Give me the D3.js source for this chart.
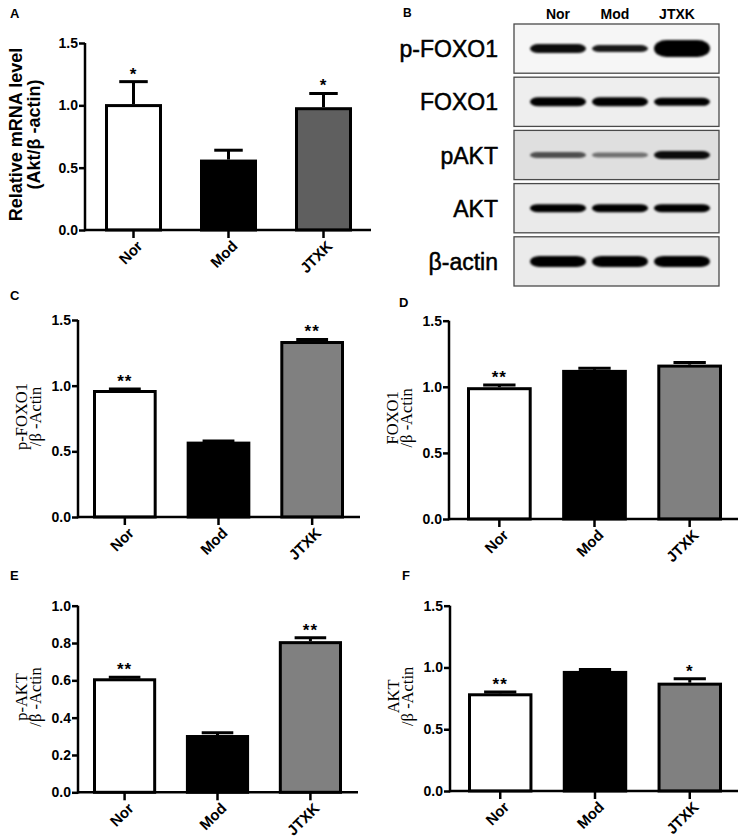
<!DOCTYPE html>
<html>
<head>
<meta charset="utf-8">
<script src="https://cdn.jsdelivr.net/npm/d3@7"></script>
<style>
body { margin: 0; background: #fff; }
svg { display: block; font-family: "Liberation Sans", Arial, sans-serif; }
</style>
</head>
<body>
<svg id="fig" width="743" height="839"></svg>
<script>
var groups = ["Nor", "Mod", "JTXK"];

// A: relative Akt mRNA
var mrnaMean = [1.01, 0.565, 0.985];
var mrnaErr = [0.18, 0.075, 0.11];
var mrnaStars = ["*", "", "*"];

// C: p-FOXO1 / beta-actin
var pFoxo1Mean = [0.967, 0.574, 1.34];
var pFoxo1Err = [0.008, 0.005, 0.012];
var pFoxo1Stars = ["**", "", "**"];

// D: FOXO1 / beta-actin
var foxo1Mean = [0.997, 1.128, 1.168];
var foxo1Err = [0.016, 0.012, 0.016];
var foxo1Stars = ["**", "", ""];

// E: p-AKT / beta-actin
var pAktMean = [0.611, 0.307, 0.81];
var pAktErr = [0.005, 0.012, 0.018];
var pAktStars = ["**", "", "**"];

// F: AKT / beta-actin
var aktMean = [0.791, 0.972, 0.877];
var aktErr = [0.01, 0.012, 0.032];
var aktStars = ["**", "", "*"];

var ticks15 = [0, 0.5, 1.0, 1.5];
var ticks10 = [0, 0.2, 0.4, 0.6, 0.8, 1.0];

// B: western blot
var blotRows = ["p-FOXO1", "FOXO1", "pAKT", "AKT", "β-actin"];
var bandThick = [[9, 7, 17], [9, 9, 8], [6, 5, 8], [8, 8, 8], [11, 11, 11]];
var bandDark = [[0.95, 0.9, 1], [1, 1, 1], [0.65, 0.5, 0.95], [1, 1, 1], [1, 1, 1]];

var svg = d3.select("#fig");
svg.append("rect").attr("width", 743).attr("height", 839).attr("fill", "#fff");

var defs = svg.append("defs");
defs.append("filter").attr("id", "soft")
        .attr("x", "-20%").attr("y", "-60%").attr("width", "140%").attr("height", "220%")
        .append("feGaussianBlur").attr("stdDeviation", 1.3);

drawBarPanel({letter: "A", lx: 10, ly: 18,
        left: 85, right: 371, top: 43, bottom: 230,
        barL: 105, barR: 352, pad: 0.4, max: 1.5, ticks: ticks15,
        jtxkFill: "#5f5f5f",
        title: ["Relative mRNA level", "(Akt/β -actin)"], titleOff: [63, 45], serif: false
    }, mrnaMean, mrnaErr, mrnaStars);

drawBarPanel({letter: "C", lx: 10, ly: 300,
        left: 78, right: 360, top: 320, bottom: 517,
        barL: 93, barR: 344, pad: 0.32, max: 1.5, ticks: ticks15,
        jtxkFill: "#808080",
        title: ["p-FOXO1", "/β -Actin"], titleOff: [51, 37], serif: true
    }, pFoxo1Mean, pFoxo1Err, pFoxo1Stars);

drawBarPanel({letter: "D", lx: 399, ly: 307,
        left: 449, right: 738, top: 320.7, bottom: 519,
        barL: 467, barR: 722, pad: 0.32, max: 1.5, ticks: ticks15,
        jtxkFill: "#808080",
        title: ["FOXO1", "/β -Actin"], titleOff: [51, 37], serif: true
    }, foxo1Mean, foxo1Err, foxo1Stars);

drawBarPanel({letter: "E", lx: 10, ly: 580,
        left: 78, right: 358, top: 605.7, bottom: 792.3,
        barL: 93, barR: 342, pad: 0.32, max: 1.0, ticks: ticks10,
        jtxkFill: "#808080",
        title: ["p-AKT", "/β -Actin"], titleOff: [51, 37], serif: true
    }, pAktMean, pAktErr, pAktStars);

drawBarPanel({letter: "F", lx: 402, ly: 580,
        left: 450, right: 738, top: 605.7, bottom: 791,
        barL: 468, barR: 722, pad: 0.32, max: 1.5, ticks: ticks15,
        jtxkFill: "#808080",
        title: ["AKT", "/β -Actin"], titleOff: [51, 37], serif: true
    }, aktMean, aktErr, aktStars);

drawBlot();

function drawBarPanel(p, means, errs, stars) {
    var fills = ["#ffffff", "#000000", p.jtxkFill];
    var data = groups.map(function (name, i) {
        return {name: name, mean: means[i], err: errs[i], star: stars[i], fill: fills[i]};
    });

    var x = d3.scaleBand().domain(groups).range([p.barL, p.barR]).paddingInner(p.pad);
    var y = d3.scaleLinear().domain([0, p.max]).range([p.bottom, p.top]);
    var bw = x.bandwidth();

    var g = svg.append("g");

    g.append("text")
            .attr("x", p.lx).attr("y", p.ly)
            .style("font-size", "13px").style("font-weight", "bold")
            .text(p.letter);

    // error bars (upper only)
    var err = g.selectAll(".err").data(data).enter().append("g").attr("class", "err")
            .attr("stroke", "#000").attr("stroke-width", 3);
    err.append("line")
            .attr("x1", function (d) { return x(d.name) + bw / 2; })
            .attr("x2", function (d) { return x(d.name) + bw / 2; })
            .attr("y1", function (d) { return y(d.mean); })
            .attr("y2", function (d) { return y(d.mean + d.err); });
    err.append("line")
            .attr("x1", function (d) { return x(d.name) + bw / 4; })
            .attr("x2", function (d) { return x(d.name) + bw * 3 / 4; })
            .attr("y1", function (d) { return y(d.mean + d.err); })
            .attr("y2", function (d) { return y(d.mean + d.err); });

    g.selectAll(".bar").data(data).enter().append("rect")
            .attr("class", "bar")
            .attr("x", function (d) { return x(d.name) + 1.5; })
            .attr("width", bw - 3)
            .attr("y", function (d) { return y(d.mean) + 1.5; })
            .attr("height", function (d) { return p.bottom - y(d.mean) - 1.5; })
            .attr("fill", function (d) { return d.fill; })
            .attr("stroke", "#000")
            .attr("stroke-width", 3);

    g.selectAll(".star").data(data).enter().append("text")
            .attr("class", "star")
            .attr("x", function (d) { return x(d.name) + bw / 2; })
            .attr("y", function (d) { return y(d.mean + d.err) - 2; })
            .attr("text-anchor", "middle")
            .style("font-size", "17px").style("font-weight", "bold")
            .style("letter-spacing", "1px")
            .text(function (d) { return d.star; });

    // y axis
    var yAxis = g.append("g")
            .attr("transform", "translate(" + p.left + ",0)")
            .call(d3.axisLeft(y).tickValues(p.ticks).tickFormat(d3.format(".1f"))
                    .tickSize(6).tickSizeOuter(0).tickPadding(1));
    yAxis.selectAll("path, line").attr("stroke", "#000").attr("stroke-width", 2.5);
    yAxis.select(".domain").attr("d", "M0," + (p.bottom + 1.25) + "V" + p.top);
    yAxis.selectAll("text")
            .attr("fill", "#000")
            .style("font-family", "'Liberation Sans', Arial, sans-serif")
            .style("font-size", "14px").style("font-weight", "bold");

    // x axis
    var xAxis = g.append("g")
            .attr("transform", "translate(0," + p.bottom + ")")
            .call(d3.axisBottom(x).tickSize(8).tickSizeOuter(0));
    xAxis.select(".domain").remove();
    xAxis.append("line")
            .attr("x1", p.left).attr("x2", p.right)
            .attr("y1", 0).attr("y2", 0);
    xAxis.selectAll("line").attr("stroke", "#000").attr("stroke-width", 2.5);
    xAxis.selectAll(".tick text")
            .attr("x", 0).attr("y", 0).attr("dy", 0)
            .attr("text-anchor", "end")
            .attr("transform", "translate(10,17) rotate(-45)")
            .attr("fill", "#000")
            .style("font-family", "'Liberation Sans', Arial, sans-serif")
            .style("font-size", "15px").style("font-weight", "bold");

    // y title
    var cy = (p.top + p.bottom) / 2 - 2;
    p.title.forEach(function (line, i) {
        g.append("text")
                .attr("transform", "translate(" + (p.left - p.titleOff[i]) + "," + cy + ") rotate(-90)")
                .attr("text-anchor", "middle")
                .style("font-family", p.serif ? "'Liberation Serif', 'Times New Roman', serif" : "'Liberation Sans', Arial, sans-serif")
                .style("font-size", p.serif ? "16.5px" : "18px")
                .style("font-weight", p.serif ? "normal" : "bold")
                .text(line);
    });
}

function drawBlot() {
    var boxFill = ["#f6f6f6", "#eeeeee", "#dfdfdf", "#eaeaea", "#ebebeb"];
    var lane = d3.scaleBand().domain(groups).range([527, 713]);
    var row = d3.scaleBand().domain(blotRows).range([24, 286]).paddingInner(0.075);
    var g = svg.append("g");

    g.append("text")
            .attr("x", 403).attr("y", 17)
            .style("font-size", "12px").style("font-weight", "bold")
            .text("B");

    g.selectAll(".lane").data(groups).enter().append("text")
            .attr("class", "lane")
            .attr("x", function (d, i) { return lane(d) + lane.bandwidth() / 2 - (i === 0 ? 0 : 5); })
            .attr("y", 19)
            .attr("text-anchor", "middle")
            .style("font-size", "14px").style("font-weight", "bold")
            .text(function (d) { return d; });

    var rows = g.selectAll(".row").data(blotRows).enter().append("g").attr("class", "row");

    rows.append("rect")
            .attr("x", 514)
            .attr("width", 205)
            .attr("y", function (d) { return row(d); })
            .attr("height", row.bandwidth())
            .attr("fill", function (d, i) { return boxFill[i]; })
            .attr("stroke", "#4a4a4a")
            .attr("stroke-width", 1.3);

    rows.append("text")
            .attr("x", 498)
            .attr("y", function (d) { return row(d) + row.bandwidth() / 2 + 8.5; })
            .attr("text-anchor", "end")
            .attr("stroke", "#000").attr("stroke-width", 0.5)
            .style("font-size", "23px")
            .text(function (d) { return d; });

    rows.each(function (rowName, ri) {
        var cy = row(rowName) + row.bandwidth() / 2;
        d3.select(this).selectAll(".band").data(groups).enter().append("rect")
                .attr("class", "band")
                .attr("x", function (d) { return lane(d) + 3; })
                .attr("width", lane.bandwidth() - 6)
                .attr("y", function (d, i) { return cy - bandThick[ri][i] / 2; })
                .attr("height", function (d, i) { return bandThick[ri][i]; })
                .attr("rx", function (d, i) { return bandThick[ri][i] / 2 + 4; })
                .attr("ry", function (d, i) { return bandThick[ri][i] / 2; })
                .attr("fill", "#000")
                .attr("opacity", function (d, i) { return bandDark[ri][i]; })
                .attr("filter", "url(#soft)");
    });
}
</script>
</body>
</html>
